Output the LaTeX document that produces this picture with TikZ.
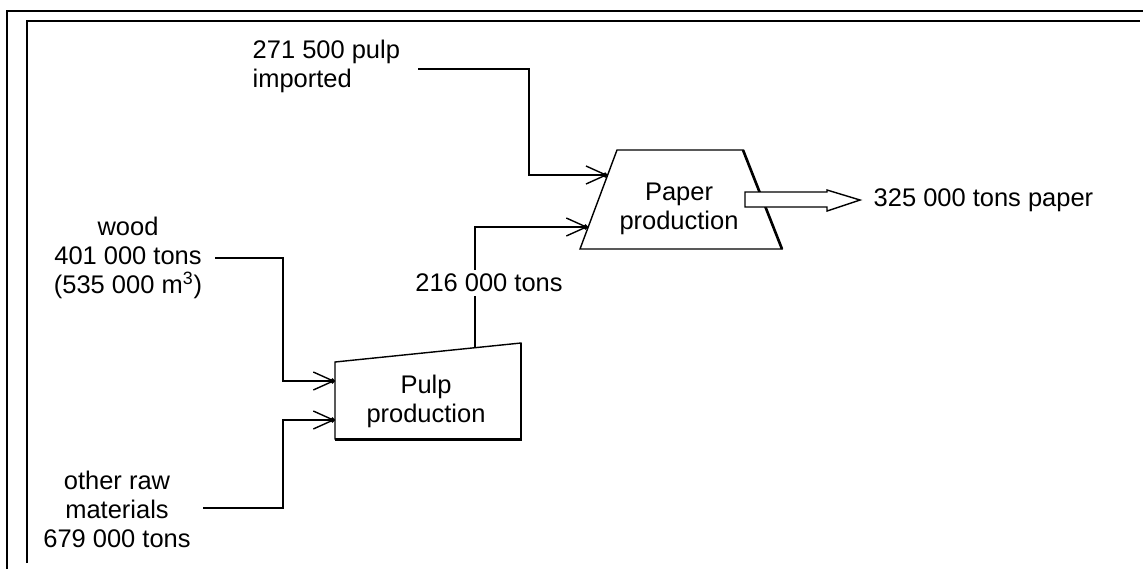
\documentclass[tikz,border=0pt]{standalone}
\usepackage{fontspec}
\setmainfont{Liberation Sans}
\usetikzlibrary{arrows.meta,calc}

\begin{document}
\begin{tikzpicture}[x=0.02cm, y=-0.02cm, line width=0.8pt,
  >={Straight Barb[length=0.4cm,width=0.36cm,sep=-0.1cm]Circle[length=0.1cm]},
  lbl/.style={font=\fontsize{14.5}{16.5}\selectfont, inner sep=0pt, align=center},
  unit/.style={draw, line width=0.8pt},
  flow/.style={->}]
  \useasboundingbox (0,0) rectangle (1143,569);
  % frame
  \draw[line width=1.1pt] (7,569) -- (7,11) -- (1143,11);
  \draw[line width=1.1pt] (27,563) -- (27,21) -- (1140,21);
  % process blocks
  \draw[unit] (335,362) -- (521,343) -- (521,439) -- (335,439) -- cycle;
  \draw[line width=1.7pt] (521,343) -- (521,439) -- (335,439);
  \draw[unit] (580,249) -- (617,150) -- (743,150) -- (782,249) -- cycle;
  \draw[line width=1.5pt] (743,150) -- (782,249);
  \node[lbl] (pulp) at (426,401) {Pulp\\production};
  \node[lbl] (paper) at (679,209) {Paper\\production};
  % inputs
  \node[lbl, align=left, anchor=west] (imp) at (252,66) {271 500 pulp\\imported};
  \node[lbl] (wood) at (128,258) {wood\\401 000 tons\\(535 000 m\textsuperscript{3})};
  \node[lbl] (raw) at (117,509) {other raw\\materials\\679 000 tons};
  \coordinate (impS) at (418,69);
  \coordinate (woodS) at (215,258);
  \coordinate (rawS) at (203,508);
  \coordinate (pulpA) at (335,381);
  \coordinate (pulpB) at (335,420);
  \coordinate (pulpT) at (475,347.7);
  \coordinate (paperA) at (607.7,175);
  \coordinate (paperB) at (588,227);
  \draw[flow] (impS) -- ++(111,0) |- (paperA);
  \draw[flow] (woodS) -- ++(68,0) |- (pulpA);
  \draw[flow] (rawS) -- ++(80,0) |- (pulpB);
  \draw[flow] (pulpT) |- (paperB);
  \node[lbl, fill=white, inner sep=2pt] (mid) at (489,283) {216 000 tons};
  % output
  \draw[fill=white] (745,192) -- (827,192) -- (827,190) -- (860,200) -- (827,211)
    -- (827,207) -- (745,207) -- cycle;
  \node[lbl, anchor=west] (out) at (873,200) {325 000 tons paper};
\end{tikzpicture}
\end{document}
